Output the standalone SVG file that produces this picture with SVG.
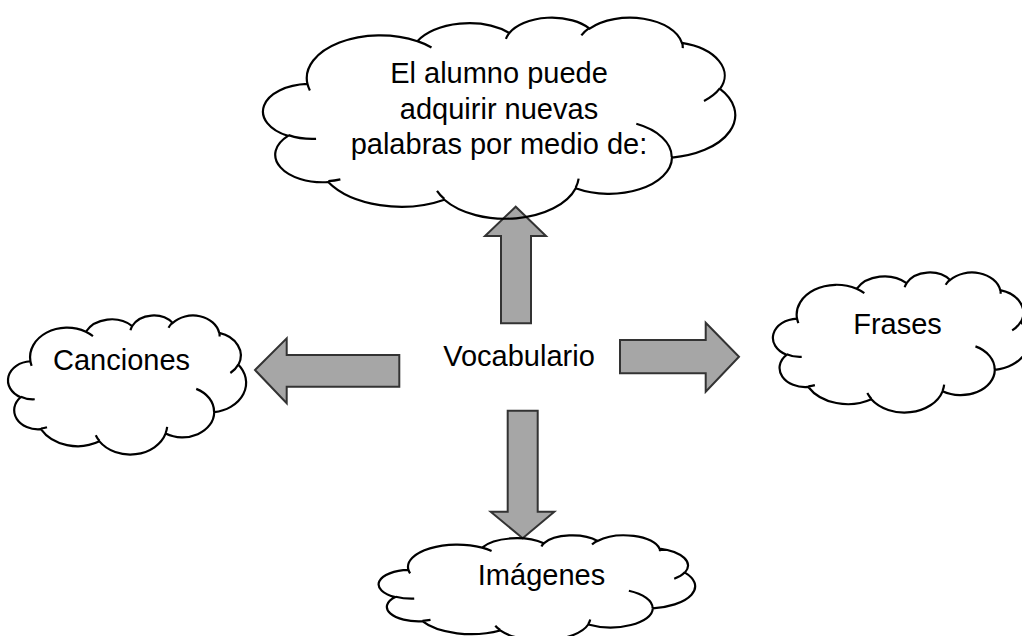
<svg xmlns="http://www.w3.org/2000/svg" xmlns:xlink="http://www.w3.org/1999/xlink" width="1022" height="636" viewBox="0 0 1022 636">
<style>
.lbl{font-family:"Liberation Sans",Arial,sans-serif;font-size:29px;fill:#000;text-anchor:middle}
.arrow{fill:#a6a6a6;stroke:#333;stroke-width:2;stroke-linejoin:miter}
.cl{fill:none;stroke:#000;stroke-width:2.2}
</style>
<defs>
<path id="cloud" class="cl" vector-effect="non-scaling-stroke" d="M3900 14370A6753 9190 0 0 1 14005 5202A5333 7267 0 0 1 22458 3430A4365 5945 0 0 1 29835 2480A4857 6595 0 0 1 38320 5577A5333 7273 0 0 1 41820 15460A6775 9220 0 0 1 37407 30205A5785 7867 0 0 1 28559 36816A6752 9215 0 0 1 16484 39268A7720 10543 0 0 1 5808 35476A4360 5918 0 0 1 2117 25554A4345 5945 0 0 1 3900 14370Z M4693 26177A4345 5945 0 0 1 2159 25380M6928 34899A4360 5918 0 0 1 5820 35281M16478 39090A6752 9215 0 0 1 15810 37349M28827 34751A6752 9215 0 0 1 28561 36660M34129 22954A5785 7867 0 0 1 37381 30090M41798 15354A5333 7273 0 0 1 40349 18031M38324 5426A4857 6595 0 0 1 38400 6690M29078 3952A4857 6595 0 0 1 29821 2337M22141 4720A4365 5945 0 0 1 22500 3330M14000 5192A6753 9190 0 0 1 15303 6544M4127 15789A6753 9190 0 0 1 3900 14370"/>
</defs>
<g id="connectors">
<polygon class="arrow" points="501,323.3 501,236 485,236 515.7,206.7 546,236 531,236 531,323.3"/>
<polygon class="arrow" points="399.3,355 286.7,355 286.7,338.3 255,370 286.7,403.3 286.7,386.7 399.3,386.7"/>
<polygon class="arrow" points="620,340 705.7,340 705.7,322.7 739,356.7 705.7,391.7 705.7,373.3 620,373.3"/>
<polygon class="arrow" points="507.7,410.7 537.7,410.7 537.7,511.7 554.3,511.7 522.7,538.3 490.7,511.7 507.7,511.7"/>
</g>
<g id="node-vocabulario">
<text class="lbl" x="519" y="366">Vocabulario</text>
</g>
<g id="node-top">
<use xlink:href="#cloud" transform="translate(265,17) scale(0.010880,0.0046528)"/>
<text class="lbl" x="499" y="83">El alumno puede</text>
<text class="lbl" x="499" y="118.5">adquirir nuevas</text>
<text class="lbl" x="499" y="154">palabras por medio de:</text>
</g>
<g id="node-canciones">
<use xlink:href="#cloud" transform="translate(9,315) scale(0.0054861,0.0032176)"/>
<text class="lbl" x="121.5" y="370">Canciones</text>
</g>
<g id="node-frases">
<use xlink:href="#cloud" transform="translate(774,272) scale(0.0059028,0.0032407)"/>
<text class="lbl" x="897.5" y="334">Frases</text>
</g>
<g id="node-imagenes">
<use xlink:href="#cloud" transform="translate(380,535) scale(0.0072917,0.0024306)"/>
<text class="lbl" x="541.5" y="585">Imágenes</text>
</g>
</svg>
